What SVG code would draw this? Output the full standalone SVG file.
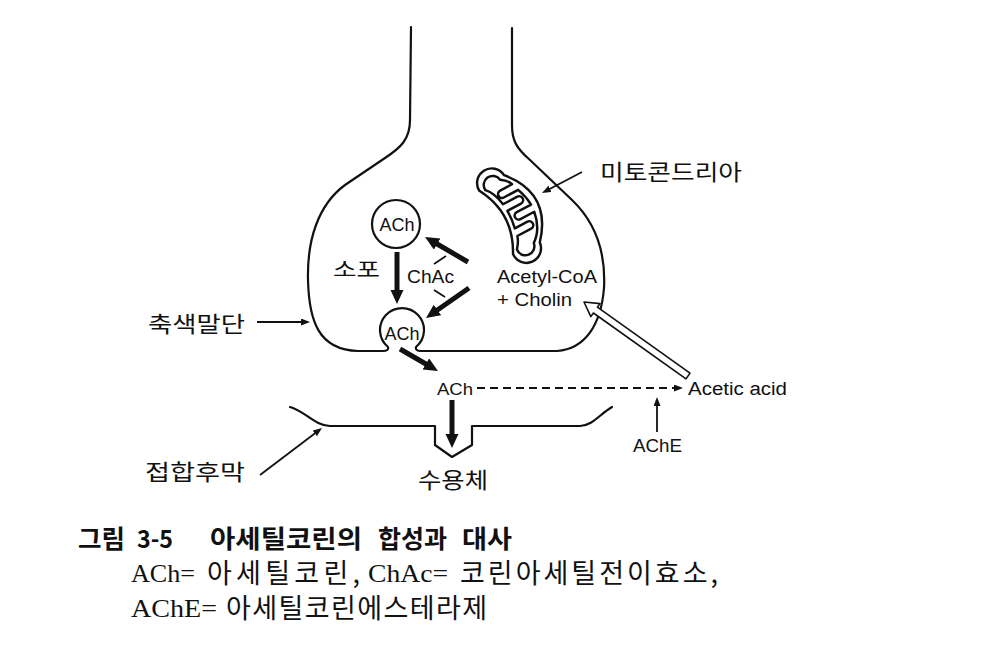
<svg xmlns="http://www.w3.org/2000/svg" width="1002" height="645" viewBox="0 0 1002 645">
<style>
.line{fill:none;stroke:#111;stroke-width:2.2;stroke-linecap:round;stroke-linejoin:round}
.thick{fill:none;stroke:#111;stroke-width:5}
.thin{fill:none;stroke:#111;stroke-width:1.8}
.dash{fill:none;stroke:#111;stroke-width:1.8;stroke-dasharray:8 5}
.ves{fill:#fff;stroke:#111;stroke-width:2.2}
.lat{font-family:"Liberation Sans",Arial,sans-serif;fill:#111}
.kr{font-family:"Noto Sans CJK KR","Noto Sans",sans-serif;fill:#111}
.cap1{font-family:"Noto Sans CJK KR",sans-serif;font-weight:bold;font-size:25px;fill:#111}
.capL{font-family:"Liberation Serif",serif;font-size:25px;fill:#111}
.capK{font-family:"Noto Sans CJK KR",sans-serif;font-size:27px;fill:#111}
</style>
<defs>
<marker id="ahThick" markerUnits="userSpaceOnUse" markerWidth="16" markerHeight="14" refX="4" refY="6.5" orient="auto">
<path d="M0,0 L14,6.5 L0,13 Z" fill="#111"/>
</marker>
<marker id="ahThin" markerUnits="userSpaceOnUse" markerWidth="10" markerHeight="8" refX="2" refY="3.5" orient="auto">
<path d="M0,0 L9,3.5 L0,7 Z" fill="#111"/>
</marker>
</defs>
<rect width="1002" height="645" fill="#fff"/>

<g id="terminal">
<path class="line" d="M411,27 L410,120 C410,140 400,148 385,158 L345,185 C318,205 307,240 308,280 C309,320 318,350 358,351 L383,351 Q389,351 388,347 A22,22 0 1 1 416,347 Q415,351 421,351 L557,351 C585,349 601,325 604,288 C606,250 595,222 572,200 L530,160 C516,148 512,140 512,125 L512,28"/>
</g>

<g id="vesicle-top">
<circle class="ves" cx="396" cy="224" r="24"/>
<text class="lat" x="397" y="231" font-size="18" text-anchor="middle">ACh</text>
</g>
<g id="vesicle-bottom">
<text class="lat" x="402" y="340" font-size="18" text-anchor="middle">ACh</text>
</g>

<g id="mitochondrion" transform="translate(514,213) rotate(62) scale(1.12)">
<path class="line" stroke-width="2" d="M -34,-8 Q 0,-38 34,-8 A 13,13 0 0 1 32,18 Q 0,0 -32,18 A 13,13 0 0 1 -34,-8 Z"/>
<path class="line" stroke-width="1.8" d="M -32,-3 Q -28,-9 -23.5,-10.5 L -23.5,1.5 A3.5,3.5 0 0 0 -16.5,1.5 L -16.5,-13 Q -8,-16.5 0.5,-17 L 0.5,-2.5 A3.5,3.5 0 0 0 7.5,-2.5 L 7.5,-16.5 Q 24,-14 32,-3 A 8,8 0 0 1 30,13 Q 24,8 19.5,7 L 19.5,-7 A3.5,3.5 0 0 0 12.5,-7 L 12.5,5.8 Q 4,4 -4.5,4.3 L -4.5,-9.5 A3.5,3.5 0 0 0 -11.5,-9.5 L -11.5,5 Q -24,7 -30,13 A 8,8 0 0 1 -32,-3 Z"/>
</g>

<g id="postsynaptic">
<path class="line" d="M290,407 C305,411 315,426 330,426 L435,426 L435,445 L452,457 L472,445 L472,426 L580,426 C592,426 600,414 612,407"/>
</g>

<g id="labels">
<text class="kr" x="600" y="180" font-size="22" textLength="142" lengthAdjust="spacingAndGlyphs">미토콘드리아</text>
<text class="kr" x="333" y="277" font-size="20" textLength="47" lengthAdjust="spacingAndGlyphs">소포</text>
<text class="lat" x="407" y="283" font-size="18" textLength="47" lengthAdjust="spacingAndGlyphs">ChAc</text>
<text class="lat" x="497" y="283" font-size="18" textLength="100" lengthAdjust="spacingAndGlyphs">Acetyl-CoA</text>
<text class="lat" x="497" y="306" font-size="18" textLength="75" lengthAdjust="spacingAndGlyphs">+ Cholin</text>
<text class="kr" x="148" y="332" font-size="22" textLength="97" lengthAdjust="spacingAndGlyphs">축색말단</text>
<text class="lat" x="437" y="395" font-size="17" textLength="36" lengthAdjust="spacingAndGlyphs">ACh</text>
<text class="lat" x="688" y="395" font-size="18" textLength="99" lengthAdjust="spacingAndGlyphs">Acetic acid</text>
<text class="lat" x="633" y="452" font-size="18" textLength="49" lengthAdjust="spacingAndGlyphs">AChE</text>
<text class="kr" x="145" y="480" font-size="22" textLength="100" lengthAdjust="spacingAndGlyphs">접합후막</text>
<text class="kr" x="418" y="488" font-size="22" textLength="70" lengthAdjust="spacingAndGlyphs">수용체</text>
</g>

<g id="connectors">
<line class="thick" x1="397" y1="252" x2="397" y2="294" marker-end="url(#ahThick)"/>
<line class="thick" x1="468" y1="262" x2="433.7" y2="242" marker-end="url(#ahThick)"/>
<line class="thick" x1="469" y1="288" x2="434.2" y2="312.3" marker-end="url(#ahThick)"/>
<line class="thick" x1="400" y1="349" x2="429.3" y2="366" marker-end="url(#ahThick)"/>
<line class="thick" x1="452" y1="400" x2="452" y2="438" marker-end="url(#ahThick)"/>
<line class="thin" x1="434" y1="264" x2="446" y2="256"/>
<line class="thin" x1="434" y1="290" x2="445" y2="297"/>
<line class="thin" x1="257" y1="322" x2="303" y2="322" marker-end="url(#ahThin)"/>
<line class="thin" x1="260" y1="475" x2="316.4" y2="432.2" marker-end="url(#ahThin)"/>
<line class="thin" x1="582" y1="172" x2="548.2" y2="189.7" marker-end="url(#ahThin)"/>
<line class="dash" x1="477" y1="388" x2="676" y2="388" marker-end="url(#ahThin)"/>
<line class="thin" x1="657" y1="432" x2="657" y2="404" marker-end="url(#ahThin)"/>
<polygon points="690,373.1 597.4,307.2 600,303.6 584,302 590.8,316.6 593.4,313 686,378.9" fill="#fff" stroke="#111" stroke-width="1.6" stroke-linejoin="round"/>
</g>

<g id="caption">
<text class="cap1" x="78" y="548" textLength="47" lengthAdjust="spacingAndGlyphs">그림</text>
<text class="cap1" x="137" y="548" textLength="36" lengthAdjust="spacingAndGlyphs">3-5</text>
<text class="cap1" x="210" y="548" textLength="152" lengthAdjust="spacingAndGlyphs">아세틸코린의</text>
<text class="cap1" x="378" y="548" textLength="69" lengthAdjust="spacingAndGlyphs">합성과</text>
<text class="cap1" x="462" y="548" textLength="50" lengthAdjust="spacingAndGlyphs">대사</text>
<text class="capL" x="131" y="582" textLength="64" lengthAdjust="spacingAndGlyphs">ACh=</text>
<text class="capK" x="207" y="583" textLength="153" lengthAdjust="spacing">아세틸코린,</text>
<text class="capL" x="368" y="582" textLength="80" lengthAdjust="spacingAndGlyphs">ChAc=</text>
<text class="capK" x="460" y="583" textLength="258" lengthAdjust="spacing">코린아세틸전이효소,</text>
<text class="capL" x="131" y="617" textLength="86" lengthAdjust="spacingAndGlyphs">AChE=</text>
<text class="capK" x="226" y="618" textLength="261" lengthAdjust="spacing">아세틸코린에스테라제</text>
</g>
</svg>
